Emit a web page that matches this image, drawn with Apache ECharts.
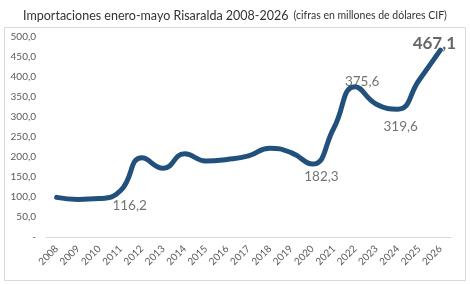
<!DOCTYPE html>
<html><head><meta charset="utf-8">
<script src="https://cdn.jsdelivr.net/npm/echarts@6/dist/echarts.min.js"></script>
<style>html,body{margin:0;padding:0;background:#fff}#c{width:470px;height:284px}</style>
</head><body><div id="c"></div>
<script>
const years = ['2008','2009','2010','2011','2012','2013','2014','2015','2016','2017','2018','2019','2020','2021','2022','2023','2024','2025','2026'];
const values = [99, 94, 96, 116.2, 198, 172, 208, 190, 194, 203, 222, 211, 182.3, 272, 375.6, 332, 319.6, 392, 467.1];
const yTicks = [0, 50, 100, 150, 200, 250, 300, 350, 400, 450, 500];
const labelled = { '2011': 'bottom', '2020': 'bottom', '2022': 'top', '2024': 'bottom', '2026': 'top' };
const labelOffsets = { '2011': [9, 3], '2020': [9, 1], '2022': [7, 7], '2024': [3, 5], '2026': [-6, 7] };

const fmt = v => v === 0 ? '-' : v.toFixed(1).replace('.', ',');
const FONT = 'Lato';

const labelData = years.map((y, i) => {
  if (!labelled[y]) return null;
  const big = y === '2026';
  return {
    value: [y, values[i]],
    label: {
      show: true, position: labelled[y], offset: labelOffsets[y],
      formatter: p => fmt(p.value[1]),
      fontSize: big ? 17 : 13.5, fontWeight: big ? 'bold' : 'normal',
      color: big ? '#404040' : '#505050', fontFamily: FONT
    }
  };
}).filter(d => d);

const chart = echarts.init(document.getElementById('c'), null, { renderer: 'canvas' });
chart.setOption({
  animation: false,
  backgroundColor: '#fff',
  title: {
    text: '{a|Importaciones enero-mayo Risaralda 2008-2026} {b|(cifras en millones de dólares CIF)}',
    left: 'center', top: 2,
    textStyle: { fontWeight: 'normal', rich: {
      a: { fontSize: 12.5, color: '#333333', fontFamily: FONT, fontWeight: 'normal' },
      b: { fontSize: 10.5, color: '#333333', fontFamily: FONT, fontWeight: 'normal' }
    } }
  },
  graphic: [{
    type: 'rect', shape: { x: 4.5, y: 27.5, width: 461, height: 253 },
    style: { fill: 'none', stroke: '#d9d9d9', lineWidth: 1 }, z: -1
  }],
  grid: { left: 46, right: 19, top: 37, bottom: 47 },
  xAxis: {
    type: 'category', data: years, boundaryGap: true,
    axisLine: { lineStyle: { color: '#d9d9d9' } },
    axisTick: { show: false },
    axisLabel: { rotate: 45, fontSize: 10, color: '#595959', fontFamily: FONT, margin: 10, interval: 0 }
  },
  yAxis: {
    type: 'value', min: yTicks[0], max: yTicks[yTicks.length - 1], interval: yTicks[1] - yTicks[0],
    splitLine: { show: false }, axisLine: { show: false }, axisTick: { show: false },
    axisLabel: { fontSize: 10, color: '#595959', fontFamily: FONT, margin: 10, formatter: fmt }
  },
  series: [{
    type: 'line', data: values, smooth: 0.5, showSymbol: false,
    lineStyle: { color: '#22507c', width: 5, cap: 'round', join: 'round' }
  }, {
    type: 'scatter', data: labelData, symbolSize: 0, silent: true
  }]
});
</script></body></html>
